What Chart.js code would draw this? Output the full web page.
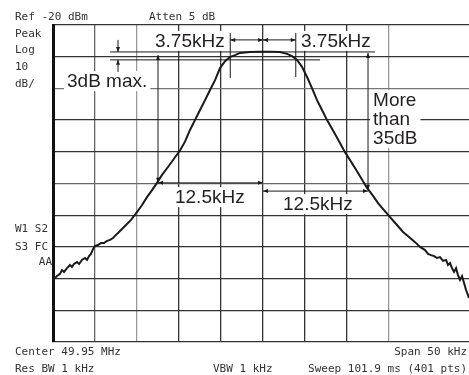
<!DOCTYPE html>
<html>
<head>
<meta charset="utf-8">
<script src="https://cdn.jsdelivr.net/npm/chart.js@4"></script>
<style>
html, body { margin: 0; padding: 0; background: #fff; overflow: hidden; }
</style>
</head>
<body>
<canvas id="sa" width="469" height="375"></canvas>
<script>
const freqOffset = [
  -25, -24.88, -24.52, -24.17, -23.93, -23.69, -23.33, -22.98, -22.74, -22.5,
  -22.14, -21.9, -21.55, -21.19, -20.95, -20.71, -20.48, -20.24, -20.0, -19.64,
  -19.29, -18.93, -18.57, -18.21, -17.86, -17.5, -17.26, -16.43, -15.71, -15.0,
  -14.4, -13.81, -13.21, -12.62, -12.02, -11.31, -10.6, -9.88, -9.29, -8.69,
  -8.1, -7.5, -6.9, -6.31, -5.71, -5.12, -4.52, -3.93, -3.33, -2.74,
  -1.55, -0.36, 0.83, 2.02, 2.86, 3.45, 4.05, 4.64, 5.24, 5.83,
  6.43, 7.02, 7.62, 8.57, 9.76, 10.95, 11.67, 12.38, 13.1, 13.69,
  14.4, 15.12, 15.95, 16.67, 17.38, 18.1, 18.69, 19.29, 19.64, 20.0,
  20.36, 20.71, 21.07, 21.43, 21.79, 22.02, 22.26, 22.5, 22.74, 22.98,
  23.21, 23.45, 23.69, 23.93, 24.17, 24.52
];
const level = [
  -98.2, -100.1, -99.2, -98.5, -97.3, -97.9, -96.7, -95.7, -96.3, -95.4,
  -94.8, -95.4, -94.1, -93.5, -94.1, -92.9, -92.2, -90.7, -89.7, -89.4,
  -88.8, -88.8, -88.1, -87.8, -87.2, -86.2, -85.6, -83.4, -81.5, -79.0,
  -76.8, -74.3, -72.1, -69.8, -67.3, -64.8, -62.2, -59.6, -56.8, -53.1,
  -50.0, -46.8, -43.7, -40.5, -37.4, -33.6, -31.4, -30.1, -29.5, -28.8,
  -28.5, -28.4, -28.4, -28.5, -29.1, -29.8, -31.0, -33.2, -36.4, -39.9,
  -43.7, -46.8, -50.0, -54.4, -60.1, -65.1, -68.3, -71.4, -73.9, -76.2,
  -78.4, -80.6, -83.1, -85.3, -86.9, -88.5, -90.0, -91.0, -92.2, -92.6,
  -92.9, -93.5, -93.2, -94.4, -94.1, -95.7, -95.1, -96.7, -97.9, -96.7,
  -98.9, -100.4, -99.2, -101.4, -103.6, -106.1
];

// analyzer screen text
const headerLeft = ['Ref -20 dBm', 'Peak', 'Log', '10', 'dB/'];
const statusLeft = ['W1 S2', 'S3 FC', 'AA'];
const footer = ['Center 49.95 MHz', 'Res BW 1 kHz', 'VBW 1 kHz', 'Span 50 kHz', 'Sweep 101.9 ms (401 pts)'];

// annotation labels, anchored in kHz / dBm
const labels = [
  { text: ['3.75kHz'], f: -12.86, db: -26.9 },
  { text: ['3.75kHz'], f: 4.52, db: -26.9 },
  { text: ['3dB max.'], f: -23.33, db: -39.6 },
  { text: ['12.5kHz'], f: -10.48, db: -76.2 },
  { text: ['12.5kHz'], f: 2.38, db: -78.4 },
  { text: ['More', 'than', '35dB'], f: 13.1, db: -45.6 }
];

const pts = freqOffset.map((f, i) => ({ x: f, y: level[i] }));

const annoFont = '19px "Liberation Sans", Arial, sans-serif';
const lineGap = 19;

function arrowHead(ctx, x1, y1, x2, y2) {
  const a = Math.atan2(y2 - y1, x2 - x1);
  const len = 5, w = 2;
  ctx.beginPath();
  ctx.moveTo(x2, y2);
  ctx.lineTo(x2 - len * Math.cos(a) + w * Math.sin(a), y2 - len * Math.sin(a) - w * Math.cos(a));
  ctx.lineTo(x2 - len * Math.cos(a) - w * Math.sin(a), y2 - len * Math.sin(a) + w * Math.cos(a));
  ctx.closePath();
  ctx.fill();
}

function seg(ctx, x1, y1, x2, y2, headA, headB) {
  ctx.beginPath();
  ctx.moveTo(x1, y1);
  ctx.lineTo(x2, y2);
  ctx.stroke();
  if (headB) arrowHead(ctx, x1, y1, x2, y2);
  if (headA) arrowHead(ctx, x2, y2, x1, y1);
}

const overlay = {
  id: 'overlay',
  beforeDatasetsDraw(chart) {
    const ctx = chart.ctx, sx = chart.scales.x, sy = chart.scales.y;
    ctx.save();
    ctx.font = annoFont;
    ctx.fillStyle = '#fff';
    labels.forEach(l => {
      const x = sx.getPixelForValue(l.f), y = sy.getPixelForValue(l.db);
      const w = Math.max(...l.text.map(t => ctx.measureText(t).width));
      const h = (l.text.length - 1) * lineGap;
      ctx.fillRect(x - 3, y - 16, w + 6, h + 20);
    });
    ctx.restore();
  },
  afterDatasetsDraw(chart) {
    const ctx = chart.ctx, sx = chart.scales.x, sy = chart.scales.y;
    const X = v => sx.getPixelForValue(v), Y = v => sy.getPixelForValue(v);
    ctx.save();
    ctx.strokeStyle = '#1a1a1a';
    ctx.fillStyle = '#1a1a1a';
    ctx.lineWidth = 1;

    // 3 dB window lines
    seg(ctx, X(-18.2), Y(-28.5), X(13.33), Y(-28.5));
    seg(ctx, X(-18.2), Y(-31.0), X(6.79), Y(-31.0));
    seg(ctx, X(-17.26), Y(-24.7), X(-17.26), Y(-28.5), false, true);
    seg(ctx, X(-17.26), Y(-34.8), X(-17.26), Y(-31.0), false, true);

    // 3.75 kHz markers
    seg(ctx, X(-3.9), Y(-22.5), X(-3.9), Y(-36.7));
    seg(ctx, X(3.9), Y(-22.5), X(3.9), Y(-36.4));
    seg(ctx, X(-3.9), Y(-24.7), X(0), Y(-24.7), true, true);
    seg(ctx, X(0), Y(-24.7), X(3.9), Y(-24.7), true, true);

    // 12.5 kHz markers
    seg(ctx, X(-12.5), Y(-29.5), X(-12.5), Y(-69.8), true, true);
    seg(ctx, X(12.5), Y(-28.8), X(12.5), Y(-72.0), true, true);
    seg(ctx, X(-12.5), Y(-69.8), X(0), Y(-69.8), true, true);
    seg(ctx, X(0), Y(-72.4), X(12.5), Y(-72.4), true, true);

    // labels
    ctx.font = annoFont;
    ctx.fillStyle = '#231f20';
    ctx.textBaseline = 'alphabetic';
    labels.forEach(l => {
      l.text.forEach((t, i) => ctx.fillText(t, X(l.f), Y(l.db) + i * lineGap));
    });

    // screen annotations
    ctx.font = '11px "DejaVu Sans Mono", monospace';
    ctx.fillStyle = '#333';
    ctx.textAlign = 'left';
    ctx.fillText(headerLeft[0], 15, 20);
    ctx.fillText('Atten 5 dB', 149, 20);
    [37, 53, 70, 87].forEach((b, i) => ctx.fillText(headerLeft[i + 1], 15, b));
    ctx.fillText(statusLeft[0], 15, 232);
    ctx.fillText(statusLeft[1], 15, 250);
    ctx.textAlign = 'right';
    ctx.fillText(statusLeft[2], 52, 265);
    ctx.textAlign = 'left';
    ctx.fillText(footer[0], 15, 355);
    ctx.fillText(footer[1], 15, 372);
    ctx.fillText(footer[2], 213, 372);
    ctx.textAlign = 'right';
    ctx.fillText(footer[3], 467, 355);
    ctx.fillText(footer[4], 467, 372);
    ctx.restore();
  }
};

const lightX = { '-15': '#9a9a9a', '15': '#9a9a9a', '-20': '#666' };
const lightY = { '-40': '#777', '-70': '#666' };

new Chart(document.getElementById('sa').getContext('2d'), {
  type: 'scatter',
  data: {
    datasets: [{
      data: pts,
      showLine: true,
      borderColor: '#1a1a1a',
      borderWidth: 2,
      pointRadius: 0,
      tension: 0
    }]
  },
  options: {
    responsive: false,
    animation: false,
    layout: { padding: { left: 53, top: 25, right: 0, bottom: 33 } },
    plugins: { legend: { display: false }, tooltip: { enabled: false } },
    scales: {
      x: {
        type: 'linear',
        min: -25,
        max: 24.52,
        ticks: { display: false, stepSize: 5 },
        afterBuildTicks: s => { s.ticks = s.ticks.filter(t => Math.abs(t.value % 5) < 1e-6); },
        grid: {
          drawTicks: false,
          lineWidth: 1.3,
          color: c => lightX[String(c.tick && c.tick.value)] || '#333'
        },
        border: { display: false }
      },
      y: {
        min: -120,
        max: -20,
        ticks: { display: false, stepSize: 10 },
        grid: {
          drawTicks: false,
          lineWidth: 1.3,
          color: c => lightY[String(c.tick && c.tick.value)] || '#333'
        },
        border: { display: true, color: '#111', width: 3 }
      }
    }
  },
  plugins: [overlay]
});
</script>
</body>
</html>
